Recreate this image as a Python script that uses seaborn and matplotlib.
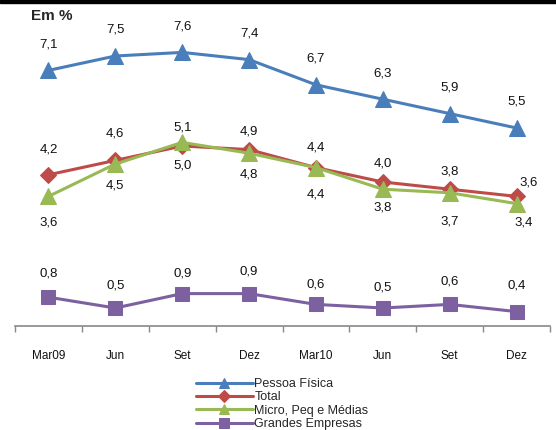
import numpy as np
import pandas as pd
import matplotlib.pyplot as plt
import seaborn as sns
from matplotlib.patches import Rectangle

sns.set_theme(style="white")
plt.rcParams['font.family'] = ['Liberation Sans', 'DejaVu Sans']

# Data
periodos = ["Mar09", "Jun", "Set", "Dez", "Mar10", "Jun", "Set", "Dez"]
pessoa_fisica = [7.1, 7.5, 7.6, 7.4, 6.7, 6.3, 5.9, 5.5]
total = [4.2, 4.6, 5.0, 4.9, 4.4, 4.0, 3.8, 3.6]
micro_peq_medias = [3.6, 4.5, 5.1, 4.8, 4.4, 3.8, 3.7, 3.4]
grandes_empresas = [0.8, 0.5, 0.9, 0.9, 0.6, 0.5, 0.6, 0.4]

series = ["Pessoa Física", "Total", "Micro, Peq e Médias", "Grandes Empresas"]
valores = [pessoa_fisica, total, micro_peq_medias, grandes_empresas]
cores = ["#4A7EBB", "#BE4B48", "#98B954", "#7D60A0"]
marcadores = ["^", "D", "^", "s"]
tamanhos = [11, 8.5, 11, 10.5]

# label offsets in pixels (positive dy = above the marker)
off_pessoa = [26] * 8
off_total = [25, 27, -19, 18, 20, 18, 18, 14]
off_micro = [-26, -21, 15, -21, -27, -18, -29, -19]
off_grandes = [24, 22, 20, 22, 20, 20, 23, 26]
offsets = [off_pessoa, off_total, off_micro, off_grandes]

rows = []
for nome, vals in zip(series, valores):
    for i, v in enumerate(vals):
        rows.append({"pos": i, "valor": v, "serie": nome})
df = pd.DataFrame(rows)

fig = plt.figure(figsize=(5.56, 4.30), dpi=100)
ax = fig.add_axes([15 / 556, 1 - 326 / 430, 535 / 556, 306 / 430])

for nome, cor, mk, ms in zip(series, cores, marcadores, tamanhos):
    sub = df[df["serie"] == nome]
    sns.lineplot(data=sub, x="pos", y="valor", color=cor, marker=mk,
                 markersize=ms, markeredgecolor=cor, linewidth=2.2,
                 label=nome, ax=ax)

for nome, vals, off in zip(series, valores, offsets):
    for i, v in enumerate(vals):
        dx = 0
        if i == 7 and nome == "Total":
            dx = 12
        elif i == 7 and nome == "Micro, Peq e Médias":
            dx = 7
        ax.annotate(f"{v:.1f}".replace(".", ","), (i, v),
                    xytext=(dx * 0.72, off[i] * 0.72),
                    textcoords="offset points",
                    ha="center", va="center", fontsize=9.5, color="#111111")

ax.set_xlim(-0.5, 7.5)
ax.set_ylim(0, 8.5)
ax.set_yticks([])
ax.set_xticks(range(len(periodos)))
ax.set_xticklabels(periodos, fontsize=8.5, color="#111111")
ax.set_xticks(np.arange(-0.5, 8, 1), minor=True)
ax.tick_params(axis="x", which="major", length=0, pad=17)
ax.tick_params(axis="x", which="minor", length=4, color="#888888",
               direction="out", bottom=True)
ax.set_xlabel("")
ax.set_ylabel("")
for s in ["top", "right", "left"]:
    ax.spines[s].set_visible(False)
ax.spines["bottom"].set_color("#888888")
ax.spines["bottom"].set_linewidth(1.2)

handles, labels = ax.get_legend_handles_labels()
ax.legend(handles, labels, loc="upper left",
          bbox_to_anchor=(190 / 556, 1 - 372 / 430),
          bbox_transform=fig.transFigure, frameon=False, fontsize=9,
          handlelength=4.5, handletextpad=0.15, labelspacing=0.1,
          borderpad=0, markerscale=0.7)

fig.text(31 / 556, 1 - 16 / 430, "Em %", fontsize=11, fontweight="bold",
         va="center", ha="left")
fig.patches.append(Rectangle((0, 1 - 3 / 430), 1, 3 / 430, color="black",
                             transform=fig.transFigure, figure=fig))

fig.savefig("out.png", dpi=100)
